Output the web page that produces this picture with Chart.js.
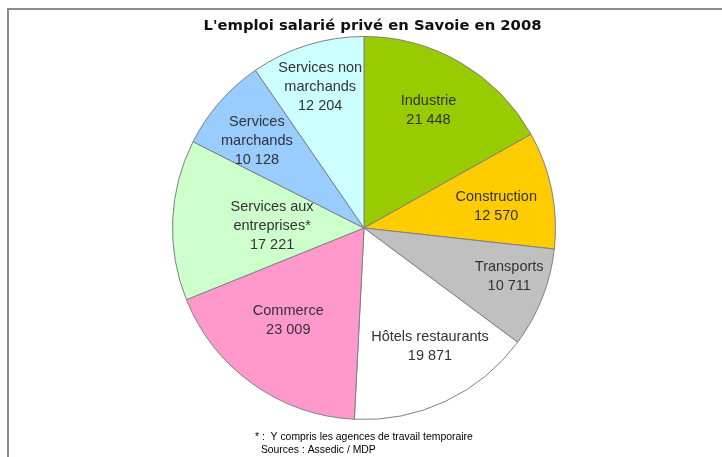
<!DOCTYPE html>
<html>
<head>
<meta charset="utf-8">
<script src="https://cdn.jsdelivr.net/npm/chart.js@4/dist/chart.umd.min.js"></script>
<style>
html,body{margin:0;padding:0;background:#fff;}
#wrap{position:relative;width:722px;height:457px;}
canvas{display:block;}
</style>
</head>
<body>
<div id="wrap"><canvas id="c" width="722" height="457"></canvas></div>
<script>
// ---- data ----
const categories = ["Industrie", "Construction", "Transports", "Hôtels restaurants", "Commerce", "Services aux entreprises*", "Services marchands", "Services non marchands"];
const labelLines = [["Industrie"], ["Construction"], ["Transports"], ["Hôtels restaurants"], ["Commerce"], ["Services aux", "entreprises*"], ["Services", "marchands"], ["Services non", "marchands"]];
const values = [21448, 12570, 10711, 19871, 23009, 17221, 10128, 12204];
const titleText = "L'emploi salarié privé en Savoie en 2008";
const footnoteLines = ["* :  Y compris les agences de travail temporaire", " Sources : Assedic / MDP"];

// ---- styles ----
const sliceColors = ["#99CC00", "#FFCC00", "#C0C0C0", "#FFFFFF", "#FF99CC", "#CCFFCC", "#99CCFF", "#CCFFFF"];
const labelRadiusFrac = [0.70, 0.70, 0.80, 0.71, 0.625, 0.48, 0.72, 0.77];
const labelAngleShiftDeg = [-1.6, 2.1, -2.9, -3.8, 3.8, -1.2, -2.1, 0];

function fmt(v){ return String(v).replace(/\B(?=(\d{3})+(?!\d))/g, " "); }

const decorPlugin = {
  id: 'decor',
  beforeDraw(chart){
    const ctx = chart.ctx;
    ctx.save();
    ctx.fillStyle = '#fff';
    ctx.fillRect(0,0,chart.width,chart.height);
    ctx.strokeStyle = '#8a8a8a';
    ctx.lineWidth = 2;
    ctx.strokeRect(8, 9, 800, 600);
    ctx.restore();
  },
  afterDraw(chart){
    const ctx = chart.ctx;
    ctx.save();
    // title
    ctx.fillStyle = '#111';
    ctx.font = 'bold 14.8px "DejaVu Sans", Verdana, sans-serif';
    ctx.textAlign = 'center';
    ctx.textBaseline = 'middle';
    ctx.fillText(titleText, 372.5, 26);
    // slice labels
    const meta = chart.getDatasetMeta(0);
    ctx.font = '14.5px "Liberation Sans", Arial, sans-serif';
    ctx.fillStyle = '#333333';
    meta.data.forEach((arc, i) => {
      const p = arc.getProps(['x','y','startAngle','endAngle','outerRadius'], true);
      const mid = (p.startAngle + p.endAngle) / 2 + labelAngleShiftDeg[i] * Math.PI / 180;
      const r = p.outerRadius * labelRadiusFrac[i];
      const cx = p.x + Math.cos(mid) * r;
      const cy = p.y + Math.sin(mid) * r;
      const lines = labelLines[i].concat([fmt(values[i])]);
      const lh = 19;
      const y0 = cy - (lines.length - 1) * lh / 2;
      lines.forEach((t, k) => ctx.fillText(t, cx, y0 + k * lh));
    });
    // footnote
    ctx.fillStyle = '#000';
    ctx.font = '10.4px "Liberation Sans", Arial, sans-serif';
    ctx.textAlign = 'left';
    ctx.fillText(footnoteLines[0], 255, 437);
    ctx.fillText(footnoteLines[1], 258, 450);
    ctx.restore();
  }
};

new Chart(document.getElementById('c'), {
  type: 'pie',
  data: {
    labels: categories,
    datasets: [{
      data: values,
      backgroundColor: sliceColors,
      borderColor: '#808080',
      borderWidth: 1
    }]
  },
  options: {
    responsive: false,
    animation: false,
    events: [],
    layout: { padding: { left: 172, right: 166, top: 36, bottom: 37 } },
    plugins: {
      legend: { display: false },
      tooltip: { enabled: false },
      title: { display: false }
    }
  },
  plugins: [decorPlugin]
});
</script>
</body>
</html>
